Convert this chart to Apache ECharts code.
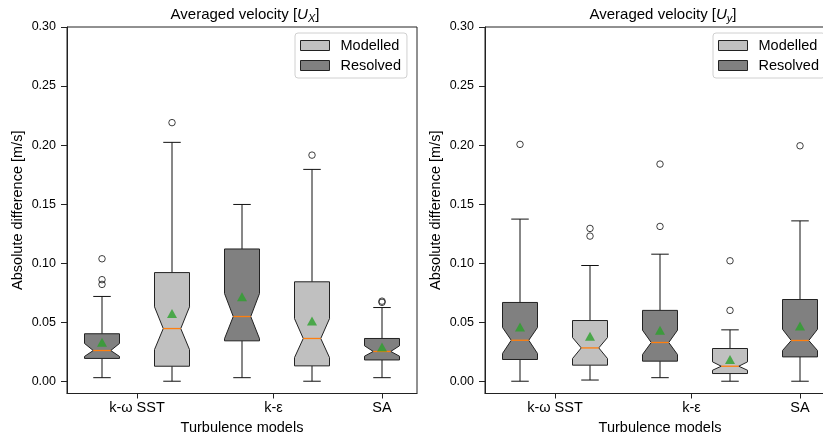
<!DOCTYPE html>
<html>
<head>
<meta charset="utf-8">
<script src="https://cdn.jsdelivr.net/npm/echarts@6/dist/echarts.min.js"></script>
<style>html,body{margin:0;padding:0;background:#fff}#c{width:823px;height:434px}</style>
</head>
<body>
<div id="c"></div>
<script>
// ---- data ----
const positions = [1, 2, 3, 4, 5];
const groups = ['Resolved', 'Modelled', 'Resolved', 'Modelled', 'Resolved'];
const xTickValues = [1.5, 3.45, 5];
const xTickLabels = ['k-ω SST', 'k-ε', 'SA'];
const yTickValues = [0, 0.05, 0.10, 0.15, 0.20, 0.25, 0.30];

// Averaged velocity [Ux]
const uxWhiskerLow  = [0.003, 0.000, 0.003, 0.000, 0.003];
const uxQ1          = [0.0193, 0.0127, 0.0342, 0.013, 0.018];
const uxNotchLow    = [0.021, 0.0268, 0.036, 0.020, 0.0212];
const uxMedian      = [0.026, 0.0446, 0.0548, 0.0362, 0.0252];
const uxNotchHigh   = [0.032, 0.063, 0.0743, 0.053, 0.030];
const uxQ3          = [0.0402, 0.092, 0.112, 0.0842, 0.0362];
const uxWhiskerHigh = [0.0718, 0.2023, 0.1497, 0.1794, 0.0624];
const uxMean        = [0.033, 0.0574, 0.0715, 0.0511, 0.029];
const uxOutliers    = [[1, 0.1037], [1, 0.086], [1, 0.082], [2, 0.219], [4, 0.1915], [5, 0.0678], [5, 0.0668]];

// Averaged velocity [Uy]
const uyWhiskerLow  = [0.000, 0.001, 0.003, 0.000, 0.000];
const uyQ1          = [0.0184, 0.0136, 0.017, 0.0065, 0.0206];
const uyNotchLow    = [0.0235, 0.0192, 0.0226, 0.0093, 0.026];
const uyMedian      = [0.0347, 0.0282, 0.0328, 0.0127, 0.0345];
const uyNotchHigh   = [0.0455, 0.037, 0.0432, 0.0164, 0.044];
const uyQ3          = [0.0667, 0.0514, 0.060, 0.0277, 0.0692];
const uyWhiskerHigh = [0.1373, 0.098, 0.1076, 0.0435, 0.1358];
const uyMean        = [0.046, 0.0381, 0.0432, 0.0184, 0.0467];
const uyOutliers    = [[1, 0.2006], [2, 0.1294], [2, 0.1229], [3, 0.1839], [3, 0.1311], [4, 0.102], [4, 0.060], [5, 0.1994]];

const groupColors = { Modelled: '#c0c0c0', Resolved: '#808080' };

const panels = [
  { wl: uxWhiskerLow, q1: uxQ1, nl: uxNotchLow, med: uxMedian, nh: uxNotchHigh, q3: uxQ3, wh: uxWhiskerHigh, mean: uxMean, out: uxOutliers },
  { wl: uyWhiskerLow, q1: uyQ1, nl: uyNotchLow, med: uyMedian, nh: uyNotchHigh, q3: uyQ3, wh: uyWhiskerHigh, mean: uyMean, out: uyOutliers }
];

const FONT = 'Liberation Sans';

function renderBox(params, api) {
  const x = api.value(0);
  const Y = v => api.coord([x, v])[1];
  const cx = api.coord([x, 0])[0];
  const hw = api.size([0.25, 0])[0];
  const nw = hw * 0.5;
  const yWl = Y(api.value(1)), yQ1 = Y(api.value(2)), yNl = Y(api.value(3)),
        yMed = Y(api.value(4)), yNh = Y(api.value(5)), yQ3 = Y(api.value(6)), yWh = Y(api.value(7));
  const fill = api.visual('color');
  const lineStyle = { stroke: '#111', lineWidth: 1 };
  return {
    type: 'group',
    children: [
      { type: 'line', shape: { x1: cx, y1: yQ3, x2: cx, y2: yWh }, style: lineStyle },
      { type: 'line', shape: { x1: cx - nw, y1: yWh, x2: cx + nw, y2: yWh }, style: lineStyle },
      { type: 'line', shape: { x1: cx, y1: yQ1, x2: cx, y2: yWl }, style: lineStyle },
      { type: 'line', shape: { x1: cx - nw, y1: yWl, x2: cx + nw, y2: yWl }, style: lineStyle },
      {
        type: 'polygon',
        shape: { points: [
          [cx - hw, yQ1], [cx - hw, yNl], [cx - nw, yMed], [cx - hw, yNh], [cx - hw, yQ3],
          [cx + hw, yQ3], [cx + hw, yNh], [cx + nw, yMed], [cx + hw, yNl], [cx + hw, yQ1]
        ] },
        style: { fill: fill, stroke: '#222', lineWidth: 1 }
      },
      { type: 'line', shape: { x1: cx - nw, y1: yMed, x2: cx + nw, y2: yMed }, style: { stroke: '#ff7f0e', lineWidth: 1.3 } }
    ]
  };
}

const grids = [
  { left: 67, top: 27, width: 350, height: 366.5, show: true, borderColor: '#222', borderWidth: 1, outerBoundsMode: 'none', containLabel: false },
  { left: 485, top: 27, width: 350, height: 366.5, show: true, borderColor: '#222', borderWidth: 1, outerBoundsMode: 'none', containLabel: false }
];

const xAxes = grids.map((g, i) => ({
  type: 'value', gridIndex: i, min: 0.5, max: 5.5,
  name: 'Turbulence models', nameLocation: 'middle', nameGap: 24,
  nameTextStyle: { fontFamily: FONT, fontSize: 14.5, color: '#000' },
  axisLine: { onZero: false, lineStyle: { color: '#222' } },
  splitLine: { show: false },
  axisTick: { customValues: xTickValues, length: 5, lineStyle: { color: '#222' } },
  axisLabel: {
    customValues: xTickValues, margin: 7, fontFamily: FONT, fontSize: 14.5, color: '#000',
    formatter: v => {
      let best = 0;
      xTickValues.forEach((t, k) => { if (Math.abs(t - v) < Math.abs(xTickValues[best] - v)) best = k; });
      return xTickLabels[best];
    }
  }
}));

const yAxes = grids.map((g, i) => ({
  type: 'value', gridIndex: i, min: -0.0104, max: 0.30,
  name: 'Absolute difference [m/s]', nameLocation: 'middle', nameGap: 42, nameRotate: 90,
  nameTextStyle: { fontFamily: FONT, fontSize: 14.5, color: '#000' },
  axisLine: { show: true, onZero: false, lineStyle: { color: '#222' } },
  splitLine: { show: false },
  axisTick: { show: true, customValues: yTickValues, length: 6, lineStyle: { color: '#222' } },
  axisLabel: { customValues: yTickValues, margin: 11, fontFamily: FONT, fontSize: 12.5, color: '#000', formatter: v => v.toFixed(2) }
}));

const series = [];
panels.forEach((p, pi) => {
  ['Modelled', 'Resolved'].forEach(gname => {
    const data = [];
    positions.forEach((pos, k) => {
      if (groups[k] === gname) data.push([pos, p.wl[k], p.q1[k], p.nl[k], p.med[k], p.nh[k], p.q3[k], p.wh[k]]);
    });
    series.push({
      type: 'custom', name: gname, xAxisIndex: pi, yAxisIndex: pi,
      renderItem: renderBox, data: data,
      encode: { x: 0, y: [1, 2, 3, 4, 5, 6, 7] },
      itemStyle: { color: groupColors[gname], borderColor: '#222', borderWidth: 1 },
      z: 2
    });
  });
  series.push({
    type: 'scatter', name: 'mean', xAxisIndex: pi, yAxisIndex: pi,
    data: positions.map((pos, k) => [pos, p.mean[k]]),
    symbol: 'triangle', symbolSize: [10, 9],
    itemStyle: { color: '#2ca02c' }, z: 5
  });
  series.push({
    type: 'scatter', name: 'outliers', xAxisIndex: pi, yAxisIndex: pi,
    data: p.out,
    symbol: 'circle', symbolSize: 6.5,
    itemStyle: { color: 'rgba(0,0,0,0)', borderColor: '#111', borderWidth: 1 }, z: 4
  });
});

const legendBase = {
  data: ['Modelled', 'Resolved'], orient: 'vertical', top: 33,
  itemWidth: 29, itemHeight: 10, itemGap: 5, icon: 'rect',
  padding: [5, 6, 5, 5], backgroundColor: '#fff', borderColor: '#d0d0d0', borderWidth: 1, borderRadius: 3,
  itemStyle: { borderColor: '#222', borderWidth: 1 },
  textStyle: { fontFamily: FONT, fontSize: 14.5, color: '#000', padding: [0, 0, 0, 6] },
  selectedMode: false
};

const titleRich = {
  i: { fontFamily: FONT, fontSize: 15, fontStyle: 'italic', color: '#000' },
  s: { fontFamily: FONT, fontSize: 11, fontStyle: 'italic', color: '#000', verticalAlign: 'bottom', padding: [8, 0, 0, 0] }
};

const option = {
  animation: false,
  backgroundColor: '#fff',
  title: [
    { text: 'Averaged velocity [{i|U}{s|X}]', left: 240, top: 0, textAlign: 'center',
      textStyle: { fontFamily: FONT, fontSize: 15, fontWeight: 'normal', color: '#000', rich: titleRich } },
    { text: 'Averaged velocity [{i|U}{s|y}]', left: 658, top: 0, textAlign: 'center',
      textStyle: { fontFamily: FONT, fontSize: 15, fontWeight: 'normal', color: '#000', rich: titleRich } }
  ],
  legend: [
    Object.assign({}, legendBase, { left: 295 }),
    Object.assign({}, legendBase, { left: 713 })
  ],
  grid: grids,
  xAxis: xAxes,
  yAxis: yAxes,
  series: series
};

const chart = echarts.init(document.getElementById('c'), null, { renderer: 'canvas' });
chart.setOption(option);
</script>
</body>
</html>
